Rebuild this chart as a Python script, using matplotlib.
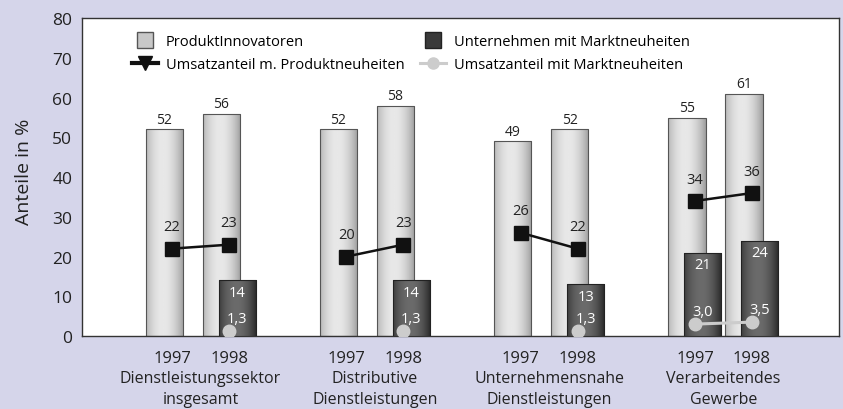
import numpy as np
import matplotlib.pyplot as plt
from matplotlib.lines import Line2D

plt.rcParams['font.family'] = ['Open Sans', 'DejaVu Sans']

# Data
groups = ["Dienstleistungssektor\ninsgesamt", "Distributive\nDienstleistungen",
          "Unternehmensnahe\nDienstleistungen", "Verarbeitendes\nGewerbe"]
years = ["1997", "1998"]
innovatoren = [[52, 56], [52, 58], [49, 52], [55, 61]]
marktneuheiten = [[None, 14], [None, 14], [None, 13], [21, 24]]
umsatz_produkt = [[22, 23], [20, 23], [26, 22], [34, 36]]
umsatz_markt = [[None, 1.3], [None, 1.3], [None, 1.3], [3.0, 3.5]]

# layout
first_pos = 1.58
group_step = 3.058
year_step = 1.0
bar_off = 0.14
bar_w = 0.65
txt = "#222222"


def fmt(v):
    return f"{v:.1f}".replace(".", ",")


def gradient_bar(ax, x, h, lo, hi, z, edge):
    bar = ax.bar(x, h, width=bar_w, facecolor="none", edgecolor=edge,
                 linewidth=0.8, zorder=z + 0.1)[0]
    t = np.linspace(0, 1, 120)
    shade = lo + (hi - lo) * np.clip(1 - ((t - 0.45) / 0.6) ** 2, 0, 1)
    im = ax.imshow(shade[None, :], cmap="gray", vmin=0, vmax=1, aspect="auto",
                   extent=(x - bar_w / 2, x + bar_w / 2, 0, h), zorder=z,
                   interpolation="bicubic")
    im.set_clip_path(bar)
    return bar


fig = plt.figure(figsize=(8.43, 4.10), dpi=100)
fig.patch.set_facecolor("#d5d5ea")
ax = fig.add_axes([82 / 843, 1 - 337 / 410, 757 / 843, 317.7 / 410])
ax.set_facecolor("white")

tick_pos = []
for g in range(len(groups)):
    cats = [first_pos + g * group_step + k * year_step for k in range(2)]
    tick_pos += cats
    for k, c in enumerate(cats):
        v = innovatoren[g][k]
        gradient_bar(ax, c - bar_off, v, 0.56, 0.91, 2, "#555555")
        ax.text(c - bar_off, v + 0.7, str(v), ha="center", va="bottom",
                fontsize=10, color=txt, zorder=6)
        m = marktneuheiten[g][k]
        if m is not None:
            gradient_bar(ax, c + bar_off, m, 0.10, 0.42, 3, "#222222")
            ax.text(c + bar_off, m - 3, str(m), ha="center", va="center",
                    fontsize=10.5, color="white", zorder=6)
    # black line
    ax.plot(cats, umsatz_produkt[g], color="#111111", lw=1.8, marker="s",
            ms=10, zorder=5)
    for c, v in zip(cats, umsatz_produkt[g]):
        ax.text(c, v + 5.5, str(v), ha="center", va="center", fontsize=10.5,
                color=txt, zorder=6)
    # gray line
    pts = [(c, v) for c, v in zip(cats, umsatz_markt[g]) if v is not None]
    ax.plot([p[0] for p in pts], [p[1] for p in pts], color="#cccccc", lw=2.2,
            marker="o", ms=9, zorder=5)
    for c, v in pts:
        ax.text(c + bar_off, v + 3.2, fmt(v), ha="center", va="center",
                fontsize=10.5, color="white", zorder=6)
    ax.text(np.mean(cats), -0.108, groups[g], transform=ax.get_xaxis_transform(),
            ha="center", va="top", fontsize=11.5, color=txt, linespacing=1.38)

ax.set_xlim(0, 757 / 57)
ax.set_ylim(0, 80)
ax.set_yticks(range(0, 81, 10))
ax.set_xticks(tick_pos)
ax.set_xticklabels(years * len(groups))
ax.tick_params(axis="x", length=0, pad=10, labelsize=12, labelcolor=txt)
ax.tick_params(axis="y", length=0, pad=7, labelsize=12.5, labelcolor=txt)
for s in ax.spines.values():
    s.set_color("#333333")
    s.set_linewidth(1.0)
ax.set_ylabel("Anteile in %", fontsize=14, color=txt)
ax.yaxis.set_label_coords(-0.065, 0.52)

handles = [
    Line2D([], [], ls="none", marker="s", ms=11, mfc="#c8c8c8", mec="#555555"),
    Line2D([], [], color="#111111", lw=3, marker="v", ms=10),
    Line2D([], [], ls="none", marker="s", ms=11, mfc="#3a3a3a", mec="#222222"),
    Line2D([], [], color="#cccccc", lw=2.2, marker="o", ms=8),
]
labels = ["ProduktInnovatoren", "Umsatzanteil m. Produktneuheiten",
          "Unternehmen mit Marktneuheiten", "Umsatzanteil mit Marktneuheiten"]
ax.legend(handles, labels, ncol=2, frameon=False, fontsize=10.5,
          loc="upper left", bbox_to_anchor=(50 / 757, 0.95), borderpad=0,
          borderaxespad=0, handlelength=1.8, handletextpad=0.5,
          columnspacing=1.1, labelspacing=0.55)

fig.savefig("out.png", dpi=100, facecolor=fig.get_facecolor())
